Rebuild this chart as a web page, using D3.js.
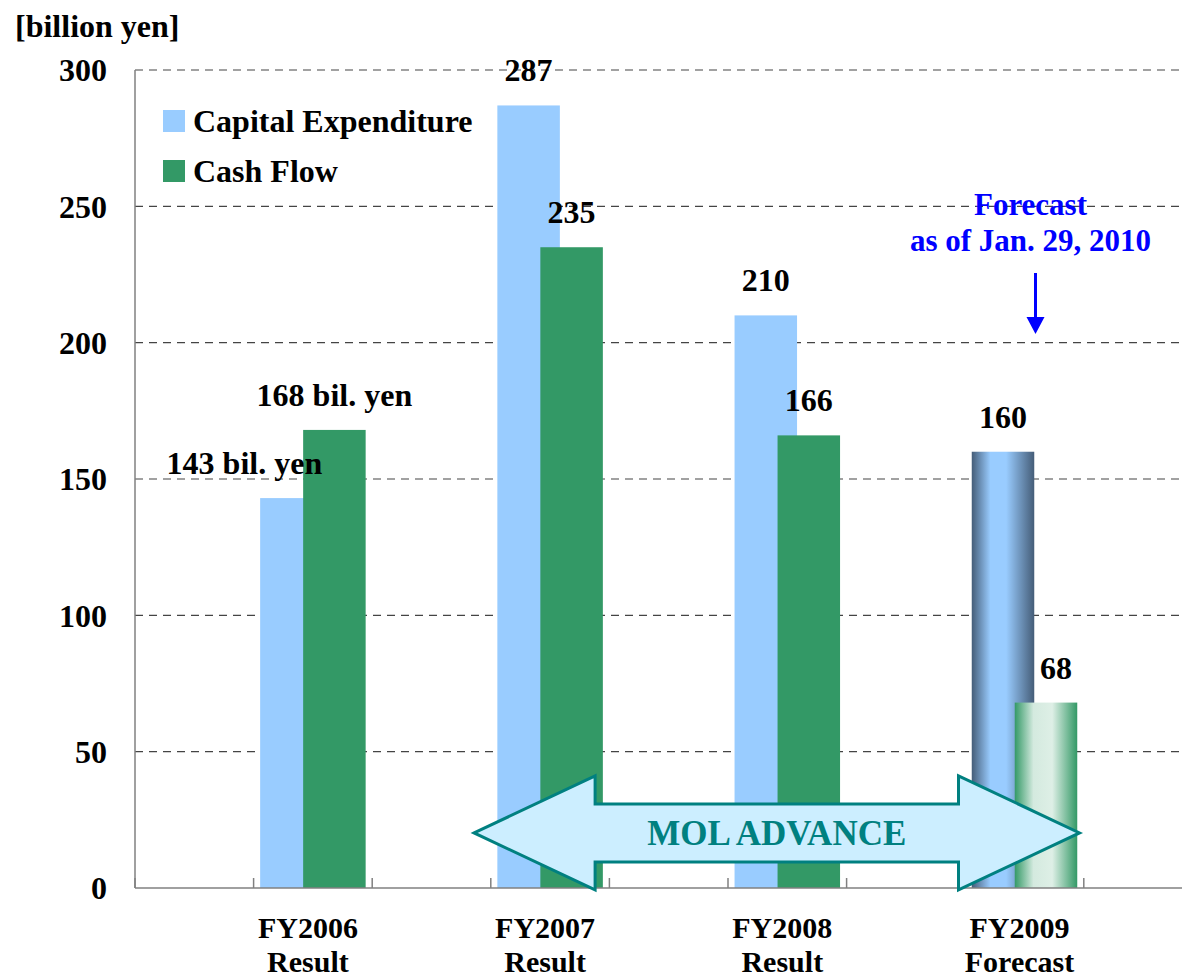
<!DOCTYPE html>
<html>
<head>
<meta charset="utf-8">
<script src="https://cdn.jsdelivr.net/npm/d3@7"></script>
<style>
  html, body { margin: 0; padding: 0; background: #fff; }
  svg { display: block; }
  text { font-family: "Liberation Serif", "Times New Roman", serif; font-weight: bold; }
</style>
</head>
<body>
<div id="chart"></div>
<script>
const categories = ["FY2006", "FY2007", "FY2008", "FY2009"];
const subLabels = ["Result", "Result", "Result", "Forecast"];
const seriesNames = ["Capital Expenditure", "Cash Flow"];
const capex = [143, 287, 210, 160];
const cashFlow = [168, 235, 166, 68];
const capexLabels = ["143 bil. yen", "287", "210", "160"];
const cashLabels = ["168 bil. yen", "235", "166", "68"];
const yTicks = [0, 50, 100, 150, 200, 250, 300];

const W = 1182, H = 979;
const L = 135, R = 1182, T = 70, B = 888;
const slot = 118.6; // axis tick spacing (half a category)
const barW = 62.5, barStep = 43;
const FS = 32;

const svg = d3.select("#chart").append("svg")
  .attr("width", W).attr("height", H)
  .attr("viewBox", `0 0 ${W} ${H}`);

const defs = svg.append("defs");
const gBlue = defs.append("linearGradient").attr("id", "gBlue")
  .attr("x1", "0%").attr("x2", "100%").attr("y1", "0%").attr("y2", "0%");
[[0, "#455d78"], [0.3, "#99ccff"], [0.55, "#99ccff"], [1, "#455d78"]].forEach(([o, c]) =>
  gBlue.append("stop").attr("offset", o).attr("stop-color", c));
const gGreen = defs.append("linearGradient").attr("id", "gGreen")
  .attr("x1", "0%").attr("x2", "100%").attr("y1", "0%").attr("y2", "0%");
[[0, "#339966"], [0.3, "#d4eadf"], [0.6, "#deefe6"], [1, "#339966"]].forEach(([o, c]) =>
  gGreen.append("stop").attr("offset", o).attr("stop-color", c));

const x = d3.scaleBand().domain(categories)
  .range([L + slot / 2, L + slot / 2 + 8 * slot]);
const y = d3.scaleLinear().domain([0, 300]).range([B, T]);
const cx = (c) => x(c) + x.bandwidth() / 2;

// gridlines
svg.append("g").selectAll("line")
  .data(yTicks.filter((t) => t > 0))
  .join("line")
  .attr("x1", L).attr("x2", R)
  .attr("y1", (d) => y(d)).attr("y2", (d) => y(d))
  .attr("stroke", "#444").attr("stroke-width", 1.2)
  .attr("stroke-dasharray", "8,6");

// bars
const rows = categories.map((c, i) => ({ c, i, vals: [capex[i], cashFlow[i]] }));
const barX = (c, s) => cx(c) + s * barStep - (barStep + barW) / 2;
seriesNames.forEach((s, si) => {
  svg.append("g").selectAll("rect")
    .data(rows)
    .join("rect")
    .attr("x", (d) => barX(d.c, si))
    .attr("width", barW)
    .attr("y", (d) => y(d.vals[si]))
    .attr("height", (d) => B - y(d.vals[si]))
    .attr("fill", (d) => d.c === "FY2009"
      ? (si === 0 ? "url(#gBlue)" : "url(#gGreen)")
      : (si === 0 ? "#99ccff" : "#339966"));
});

// axes
svg.append("line").attr("x1", L).attr("x2", L).attr("y1", T).attr("y2", B)
  .attr("stroke", "#808080").attr("stroke-width", 1.5);
svg.append("line").attr("x1", L).attr("x2", R).attr("y1", B).attr("y2", B)
  .attr("stroke", "#808080").attr("stroke-width", 1.5);
svg.append("g").selectAll("line")
  .data(d3.range(0, 9))
  .join("line")
  .attr("x1", (k) => L + k * slot).attr("x2", (k) => L + k * slot)
  .attr("y1", B).attr("y2", B - 10)
  .attr("stroke", "#808080").attr("stroke-width", 1.5);

svg.append("g").selectAll("text")
  .data(yTicks)
  .join("text")
  .attr("x", 107).attr("y", (d) => y(d))
  .attr("dy", "0.35em")
  .attr("text-anchor", "end")
  .attr("font-size", FS)
  .text((d) => d);

// category labels, two lines each
const catG = svg.append("g").selectAll("g")
  .data(rows)
  .join("g")
  .attr("font-size", 30)
  .attr("text-anchor", "middle");
catG.append("text").attr("x", (d) => cx(d.c) - 5).attr("y", 938).text((d) => d.c);
catG.append("text").attr("x", (d) => cx(d.c) - 5).attr("y", 972).text((d) => subLabels[d.i]);

svg.append("text").attr("x", 15).attr("y", 37).attr("font-size", FS).text("[billion yen]");

// legend
seriesNames.forEach((s, si) => {
  svg.append("rect").attr("x", 163).attr("y", 110 + si * 50)
    .attr("width", 22).attr("height", 22)
    .attr("fill", si === 0 ? "#99ccff" : "#339966");
  svg.append("text").attr("x", 193).attr("y", 132 + si * 50)
    .attr("font-size", FS).text(s);
});

// value labels
const labelShift = { "143 bil. yen": -47, "68": 10 };
[capexLabels, cashLabels].forEach((labs, si) => {
  svg.append("g").selectAll("text")
    .data(rows)
    .join("text")
    .attr("x", (d) => barX(d.c, si) + barW / 2 + (labelShift[labs[d.i]] || 0))
    .attr("y", (d) => y(d.vals[si]) - 24)
    .attr("text-anchor", "middle")
    .attr("font-size", FS)
    .text((d) => labs[d.i]);
});

// forecast note
const fx = cx("FY2009") + 6;
svg.append("text").attr("x", fx).attr("y", 215).attr("text-anchor", "middle")
  .attr("font-size", 31).attr("fill", "#0000ff").text("Forecast");
svg.append("text").attr("x", fx).attr("y", 251).attr("text-anchor", "middle")
  .attr("font-size", 31).attr("fill", "#0000ff").text("as of Jan. 29, 2010");
svg.append("line").attr("x1", cx("FY2009") + 11).attr("x2", cx("FY2009") + 11)
  .attr("y1", 273).attr("y2", 320)
  .attr("stroke", "#0000ff").attr("stroke-width", 3);
svg.append("path")
  .attr("d", `M${cx("FY2009") + 2},317 L${cx("FY2009") + 20},317 L${cx("FY2009") + 11},334 Z`)
  .attr("fill", "#0000ff");

// MOL ADVANCE double arrow
const ax0 = cx("FY2007") - 76, ax1 = cx("FY2009") + 55;
const am = y(20.2), shaft = 29, head = 57, headLen = 121;
const arrowPts = [
  [ax0, am],
  [ax0 + headLen, am - head],
  [ax0 + headLen, am - shaft],
  [ax1 - headLen, am - shaft],
  [ax1 - headLen, am - head],
  [ax1, am],
  [ax1 - headLen, am + head],
  [ax1 - headLen, am + shaft],
  [ax0 + headLen, am + shaft],
  [ax0 + headLen, am + head],
];
svg.append("path")
  .attr("d", d3.line()(arrowPts) + "Z")
  .attr("fill", "#cceeff")
  .attr("stroke", "#008080").attr("stroke-width", 3)
  .attr("stroke-linejoin", "miter");
svg.append("text").attr("x", (ax0 + ax1) / 2).attr("y", am + 12)
  .attr("text-anchor", "middle").attr("font-size", 35)
  .attr("fill", "#008080").text("MOL ADVANCE");
</script>
</body>
</html>
